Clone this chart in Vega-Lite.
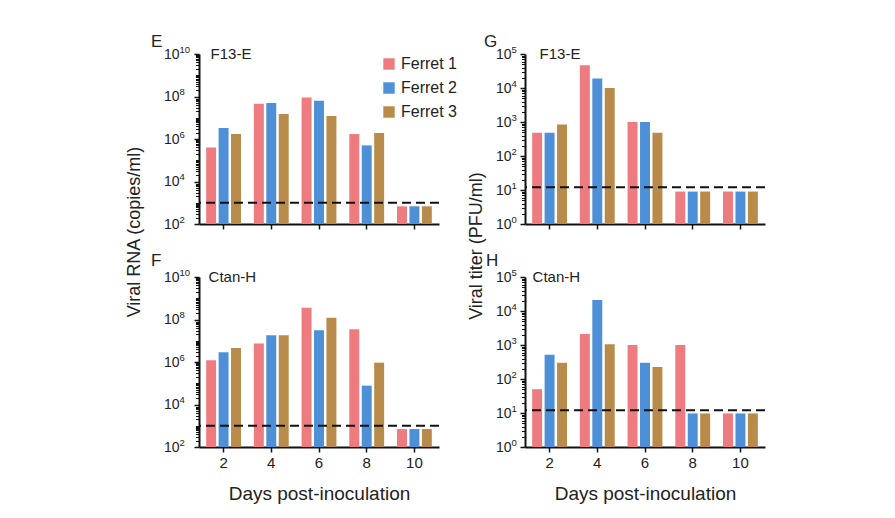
{
  "$schema": "https://vega.github.io/schema/vega-lite/v6.json",
  "padding": {"left": 125, "top": 33, "right": 5, "bottom": 5},
  "background": "white",
  "config": {
    "font": "Liberation Sans",
    "view": {"stroke": null},
    "axis": {"grid": false, "domainColor": "#111", "domainWidth": 2, "tickColor": "#111", "tickWidth": 1.5, "labelColor": "#222", "titleColor": "#222", "labelFont": "Liberation Sans", "titleFont": "Liberation Sans", "titleFontWeight": "normal"},
    "title": {"fontWeight": "normal", "color": "#222", "font": "Liberation Sans"},
    "legend": {"labelFont": "Liberation Sans"}
  },
  "datasets": {
    "rna": [
      {"strain": "F13-E", "day": 2, "ferret": "Ferret 1", "value": 400000},
      {"strain": "F13-E", "day": 2, "ferret": "Ferret 2", "value": 3300000},
      {"strain": "F13-E", "day": 2, "ferret": "Ferret 3", "value": 1700000},
      {"strain": "F13-E", "day": 4, "ferret": "Ferret 1", "value": 45000000},
      {"strain": "F13-E", "day": 4, "ferret": "Ferret 2", "value": 50000000},
      {"strain": "F13-E", "day": 4, "ferret": "Ferret 3", "value": 15000000},
      {"strain": "F13-E", "day": 6, "ferret": "Ferret 1", "value": 90000000},
      {"strain": "F13-E", "day": 6, "ferret": "Ferret 2", "value": 63000000},
      {"strain": "F13-E", "day": 6, "ferret": "Ferret 3", "value": 12000000},
      {"strain": "F13-E", "day": 8, "ferret": "Ferret 1", "value": 1700000},
      {"strain": "F13-E", "day": 8, "ferret": "Ferret 2", "value": 500000},
      {"strain": "F13-E", "day": 8, "ferret": "Ferret 3", "value": 1900000},
      {"strain": "F13-E", "day": 10, "ferret": "Ferret 1", "value": 680},
      {"strain": "F13-E", "day": 10, "ferret": "Ferret 2", "value": 680},
      {"strain": "F13-E", "day": 10, "ferret": "Ferret 3", "value": 680},
      {"strain": "Ctan-H", "day": 2, "ferret": "Ferret 1", "value": 1200000},
      {"strain": "Ctan-H", "day": 2, "ferret": "Ferret 2", "value": 2900000},
      {"strain": "Ctan-H", "day": 2, "ferret": "Ferret 3", "value": 4600000},
      {"strain": "Ctan-H", "day": 4, "ferret": "Ferret 1", "value": 7400000},
      {"strain": "Ctan-H", "day": 4, "ferret": "Ferret 2", "value": 18000000},
      {"strain": "Ctan-H", "day": 4, "ferret": "Ferret 3", "value": 18000000},
      {"strain": "Ctan-H", "day": 6, "ferret": "Ferret 1", "value": 360000000},
      {"strain": "Ctan-H", "day": 6, "ferret": "Ferret 2", "value": 31000000},
      {"strain": "Ctan-H", "day": 6, "ferret": "Ferret 3", "value": 120000000},
      {"strain": "Ctan-H", "day": 8, "ferret": "Ferret 1", "value": 35000000},
      {"strain": "Ctan-H", "day": 8, "ferret": "Ferret 2", "value": 77000},
      {"strain": "Ctan-H", "day": 8, "ferret": "Ferret 3", "value": 930000},
      {"strain": "Ctan-H", "day": 10, "ferret": "Ferret 1", "value": 700},
      {"strain": "Ctan-H", "day": 10, "ferret": "Ferret 2", "value": 700},
      {"strain": "Ctan-H", "day": 10, "ferret": "Ferret 3", "value": 700}
    ],
    "titer": [
      {"strain": "F13-E", "day": 2, "ferret": "Ferret 1", "value": 480},
      {"strain": "F13-E", "day": 2, "ferret": "Ferret 2", "value": 480},
      {"strain": "F13-E", "day": 2, "ferret": "Ferret 3", "value": 850},
      {"strain": "F13-E", "day": 4, "ferret": "Ferret 1", "value": 47000},
      {"strain": "F13-E", "day": 4, "ferret": "Ferret 2", "value": 19000},
      {"strain": "F13-E", "day": 4, "ferret": "Ferret 3", "value": 10000},
      {"strain": "F13-E", "day": 6, "ferret": "Ferret 1", "value": 1000},
      {"strain": "F13-E", "day": 6, "ferret": "Ferret 2", "value": 1000},
      {"strain": "F13-E", "day": 6, "ferret": "Ferret 3", "value": 480},
      {"strain": "F13-E", "day": 8, "ferret": "Ferret 1", "value": 9},
      {"strain": "F13-E", "day": 8, "ferret": "Ferret 2", "value": 9},
      {"strain": "F13-E", "day": 8, "ferret": "Ferret 3", "value": 9},
      {"strain": "F13-E", "day": 10, "ferret": "Ferret 1", "value": 9},
      {"strain": "F13-E", "day": 10, "ferret": "Ferret 2", "value": 9},
      {"strain": "F13-E", "day": 10, "ferret": "Ferret 3", "value": 9},
      {"strain": "Ctan-H", "day": 2, "ferret": "Ferret 1", "value": 50},
      {"strain": "Ctan-H", "day": 2, "ferret": "Ferret 2", "value": 520},
      {"strain": "Ctan-H", "day": 2, "ferret": "Ferret 3", "value": 300},
      {"strain": "Ctan-H", "day": 4, "ferret": "Ferret 1", "value": 2100},
      {"strain": "Ctan-H", "day": 4, "ferret": "Ferret 2", "value": 21000},
      {"strain": "Ctan-H", "day": 4, "ferret": "Ferret 3", "value": 1050},
      {"strain": "Ctan-H", "day": 6, "ferret": "Ferret 1", "value": 1000},
      {"strain": "Ctan-H", "day": 6, "ferret": "Ferret 2", "value": 300},
      {"strain": "Ctan-H", "day": 6, "ferret": "Ferret 3", "value": 225},
      {"strain": "Ctan-H", "day": 8, "ferret": "Ferret 1", "value": 1000},
      {"strain": "Ctan-H", "day": 8, "ferret": "Ferret 2", "value": 9.7},
      {"strain": "Ctan-H", "day": 8, "ferret": "Ferret 3", "value": 9.7},
      {"strain": "Ctan-H", "day": 10, "ferret": "Ferret 1", "value": 9.7},
      {"strain": "Ctan-H", "day": 10, "ferret": "Ferret 2", "value": 9.7},
      {"strain": "Ctan-H", "day": 10, "ferret": "Ferret 3", "value": 9.7}
    ]
  },
  "hconcat": [
    {
      "title": {"text": "Viral RNA (copies/ml)", "orient": "left", "anchor": "middle", "fontSize": 18, "offset": 4, "dx": 36, "dy": -3},
      "spacing": 21,
      "vconcat": [
        {
          "width": 240, "height": 170,
          "title": {"text": "E", "anchor": "start", "frame": "group", "dx": -48, "offset": -7, "fontSize": 17},
          "layer": [
            {
              "data": {"name": "rna"},
              "transform": [{"filter": "datum.strain == 'F13-E'"}],
              "mark": {"type": "bar"},
              "encoding": {
                "x": {"field": "day", "type": "ordinal", "scale": {"paddingInner": 0.27, "paddingOuter": 0.15}, "axis": {"labels": false, "title": null, "tickSize": 5, "labelAngle": 0}},
                "xOffset": {"field": "ferret", "type": "nominal", "scale": {"paddingInner": 0.2}},
                "y": {"field": "value", "type": "quantitative", "scale": {"type": "log", "domain": [100, 10000000000], "nice": false}, "axis": {"title": null, "labelOverlap": false, "values": [100,200,300,400,500,600,700,800,900,1000,2000,3000,4000,5000,6000,7000,8000,9000,10000,20000,30000,40000,50000,60000,70000,80000,90000,100000,200000,300000,400000,500000,600000,700000,800000,900000,1000000,2000000,3000000,4000000,5000000,6000000,7000000,8000000,9000000,10000000,20000000,30000000,40000000,50000000,60000000,70000000,80000000,90000000,100000000,200000000,300000000,400000000,500000000,600000000,700000000,800000000,900000000,1000000000,2000000000,3000000000,4000000000,5000000000,6000000000,7000000000,8000000000,9000000000,10000000000], "labelExpr": "indexof([100, 10000, 1000000, 100000000, 10000000000], datum.value) >= 0 ? '10' : ''", "tickSize": {"condition": {"test": "indexof([100, 10000, 1000000, 100000000, 10000000000], datum.value) >= 0", "value": 5}, "value": 3.5}, "tickWidth": {"condition": {"test": "indexof([100, 10000, 1000000, 100000000, 10000000000], datum.value) >= 0", "value": 1.5}, "value": 1}, "labelFontSize": 14, "labelPadding": 15}},
                "y2": {"datum": 100},
                "color": {"field": "ferret", "type": "nominal", "scale": {"domain": ["Ferret 1", "Ferret 2", "Ferret 3"], "range": ["#ee7b80", "#4d90d8", "#b98b4a"]}, "legend": {"orient": "none", "legendX": 182, "legendY": 2, "title": null, "symbolType": "square", "symbolSize": 130, "symbolStrokeWidth": 0, "labelFontSize": 16, "labelColor": "#222", "rowPadding": 8, "labelOffset": 4}}
              }
            },
            {
              "data": {"values": [{"lod": 1000}]},
              "mark": {"type": "rule", "strokeDash": [9, 5], "strokeWidth": 2, "color": "#111"},
              "encoding": {"y": {"field": "lod", "type": "quantitative", "axis": null}}
            },
            {
              "data": {"values": [{"label": "F13-E", "day": 2, "pos": 10000000000}]},
              "mark": {"type": "text", "align": "left", "baseline": "middle", "dx": -13, "fontSize": 15, "color": "#222"},
              "encoding": {"text": {"field": "label"}, "x": {"field": "day", "type": "ordinal"}, "y": {"field": "pos", "type": "quantitative", "axis": {"orient": "left", "title": null, "domain": false, "ticks": false, "values": [100, 10000, 1000000, 100000000, 10000000000], "labelExpr": "'' + round(log(datum.value) / log(10))", "labelAlign": "left", "labelPadding": 20, "labelFontSize": 9.5, "labelOffset": -5}}}
            }
          ],
          "resolve": {"axis": {"y": "independent"}}
        },
        {
          "width": 240, "height": 170,
          "title": {"text": "F", "anchor": "start", "frame": "group", "dx": -48, "offset": -3, "fontSize": 17},
          "layer": [
            {
              "data": {"name": "rna"},
              "transform": [{"filter": "datum.strain == 'Ctan-H'"}],
              "mark": {"type": "bar"},
              "encoding": {
                "x": {"field": "day", "type": "ordinal", "scale": {"paddingInner": 0.27, "paddingOuter": 0.15}, "axis": {"title": "Days post-inoculation", "tickSize": 5, "labelAngle": 0, "labelFontSize": 15, "labelPadding": 3, "titleFontSize": 19, "titlePadding": 14}},
                "xOffset": {"field": "ferret", "type": "nominal", "scale": {"paddingInner": 0.2}},
                "y": {"field": "value", "type": "quantitative", "scale": {"type": "log", "domain": [100, 10000000000], "nice": false}, "axis": {"title": null, "labelOverlap": false, "values": [100,200,300,400,500,600,700,800,900,1000,2000,3000,4000,5000,6000,7000,8000,9000,10000,20000,30000,40000,50000,60000,70000,80000,90000,100000,200000,300000,400000,500000,600000,700000,800000,900000,1000000,2000000,3000000,4000000,5000000,6000000,7000000,8000000,9000000,10000000,20000000,30000000,40000000,50000000,60000000,70000000,80000000,90000000,100000000,200000000,300000000,400000000,500000000,600000000,700000000,800000000,900000000,1000000000,2000000000,3000000000,4000000000,5000000000,6000000000,7000000000,8000000000,9000000000,10000000000], "labelExpr": "indexof([100, 10000, 1000000, 100000000, 10000000000], datum.value) >= 0 ? '10' : ''", "tickSize": {"condition": {"test": "indexof([100, 10000, 1000000, 100000000, 10000000000], datum.value) >= 0", "value": 5}, "value": 3.5}, "tickWidth": {"condition": {"test": "indexof([100, 10000, 1000000, 100000000, 10000000000], datum.value) >= 0", "value": 1.5}, "value": 1}, "labelFontSize": 14, "labelPadding": 15}},
                "y2": {"datum": 100},
                "color": {"field": "ferret", "type": "nominal", "scale": {"domain": ["Ferret 1", "Ferret 2", "Ferret 3"], "range": ["#ee7b80", "#4d90d8", "#b98b4a"]}, "legend": null}
              }
            },
            {
              "data": {"values": [{"lod": 1000}]},
              "mark": {"type": "rule", "strokeDash": [9, 5], "strokeWidth": 2, "color": "#111"},
              "encoding": {"y": {"field": "lod", "type": "quantitative", "axis": null}}
            },
            {
              "data": {"values": [{"label": "Ctan-H", "day": 2, "pos": 10000000000}]},
              "mark": {"type": "text", "align": "left", "baseline": "middle", "dx": -15, "fontSize": 15, "color": "#222"},
              "encoding": {"text": {"field": "label"}, "x": {"field": "day", "type": "ordinal"}, "y": {"field": "pos", "type": "quantitative", "axis": {"orient": "left", "title": null, "domain": false, "ticks": false, "values": [100, 10000, 1000000, 100000000, 10000000000], "labelExpr": "'' + round(log(datum.value) / log(10))", "labelAlign": "left", "labelPadding": 20, "labelFontSize": 9.5, "labelOffset": -5}}}
            }
          ],
          "resolve": {"axis": {"y": "independent"}}
        }
      ],
      "resolve": {"legend": {"color": "independent"}, "scale": {"y": "independent"}}
    },
    {
      "title": {"text": "Viral titer (PFU/ml)", "orient": "left", "anchor": "middle", "fontSize": 18, "offset": -7, "dx": 22, "dy": -5},
      "spacing": 21,
      "vconcat": [
        {
          "width": 240, "height": 170,
          "title": {"text": "G", "anchor": "start", "frame": "group", "dx": -41, "offset": -7, "fontSize": 17},
          "layer": [
            {
              "data": {"name": "titer"},
              "transform": [{"filter": "datum.strain == 'F13-E'"}],
              "mark": {"type": "bar"},
              "encoding": {
                "x": {"field": "day", "type": "ordinal", "scale": {"paddingInner": 0.27, "paddingOuter": 0.15}, "axis": {"labels": false, "title": null, "tickSize": 5, "labelAngle": 0}},
                "xOffset": {"field": "ferret", "type": "nominal", "scale": {"paddingInner": 0.2}},
                "y": {"field": "value", "type": "quantitative", "scale": {"type": "log", "domain": [1, 100000], "nice": false}, "axis": {"title": null, "labelOverlap": false, "values": [1,2,3,4,5,6,7,8,9,10,20,30,40,50,60,70,80,90,100,200,300,400,500,600,700,800,900,1000,2000,3000,4000,5000,6000,7000,8000,9000,10000,20000,30000,40000,50000,60000,70000,80000,90000,100000], "labelExpr": "indexof([1, 10, 100, 1000, 10000, 100000], datum.value) >= 0 ? '10' : ''", "tickSize": {"condition": {"test": "indexof([1, 10, 100, 1000, 10000, 100000], datum.value) >= 0", "value": 5}, "value": 3.5}, "tickWidth": {"condition": {"test": "indexof([1, 10, 100, 1000, 10000, 100000], datum.value) >= 0", "value": 1.5}, "value": 1}, "labelFontSize": 14, "labelPadding": 9}},
                "y2": {"datum": 1},
                "color": {"field": "ferret", "type": "nominal", "scale": {"domain": ["Ferret 1", "Ferret 2", "Ferret 3"], "range": ["#ee7b80", "#4d90d8", "#b98b4a"]}, "legend": null}
              }
            },
            {
              "data": {"values": [{"lod": 12}]},
              "mark": {"type": "rule", "strokeDash": [9, 5], "strokeWidth": 2, "color": "#111"},
              "encoding": {"y": {"field": "lod", "type": "quantitative", "axis": null}}
            },
            {
              "data": {"values": [{"label": "F13-E", "day": 2, "pos": 100000}]},
              "mark": {"type": "text", "align": "left", "baseline": "middle", "dx": -10, "fontSize": 15, "color": "#222"},
              "encoding": {"text": {"field": "label"}, "x": {"field": "day", "type": "ordinal"}, "y": {"field": "pos", "type": "quantitative", "axis": {"orient": "left", "title": null, "domain": false, "ticks": false, "values": [1, 10, 100, 1000, 10000, 100000], "labelExpr": "'' + round(log(datum.value) / log(10))", "labelAlign": "left", "labelPadding": 14, "labelFontSize": 9.5, "labelOffset": -5}}}
            }
          ],
          "resolve": {"axis": {"y": "independent"}}
        },
        {
          "width": 240, "height": 170,
          "title": {"text": "H", "anchor": "start", "frame": "group", "dx": -39, "offset": -3, "fontSize": 17},
          "layer": [
            {
              "data": {"name": "titer"},
              "transform": [{"filter": "datum.strain == 'Ctan-H'"}],
              "mark": {"type": "bar"},
              "encoding": {
                "x": {"field": "day", "type": "ordinal", "scale": {"paddingInner": 0.27, "paddingOuter": 0.15}, "axis": {"title": "Days post-inoculation", "tickSize": 5, "labelAngle": 0, "labelFontSize": 15, "labelPadding": 3, "titleFontSize": 19, "titlePadding": 14}},
                "xOffset": {"field": "ferret", "type": "nominal", "scale": {"paddingInner": 0.2}},
                "y": {"field": "value", "type": "quantitative", "scale": {"type": "log", "domain": [1, 100000], "nice": false}, "axis": {"title": null, "labelOverlap": false, "values": [1,2,3,4,5,6,7,8,9,10,20,30,40,50,60,70,80,90,100,200,300,400,500,600,700,800,900,1000,2000,3000,4000,5000,6000,7000,8000,9000,10000,20000,30000,40000,50000,60000,70000,80000,90000,100000], "labelExpr": "indexof([1, 10, 100, 1000, 10000, 100000], datum.value) >= 0 ? '10' : ''", "tickSize": {"condition": {"test": "indexof([1, 10, 100, 1000, 10000, 100000], datum.value) >= 0", "value": 5}, "value": 3.5}, "tickWidth": {"condition": {"test": "indexof([1, 10, 100, 1000, 10000, 100000], datum.value) >= 0", "value": 1.5}, "value": 1}, "labelFontSize": 14, "labelPadding": 9}},
                "y2": {"datum": 1},
                "color": {"field": "ferret", "type": "nominal", "scale": {"domain": ["Ferret 1", "Ferret 2", "Ferret 3"], "range": ["#ee7b80", "#4d90d8", "#b98b4a"]}, "legend": null}
              }
            },
            {
              "data": {"values": [{"lod": 12}]},
              "mark": {"type": "rule", "strokeDash": [9, 5], "strokeWidth": 2, "color": "#111"},
              "encoding": {"y": {"field": "lod", "type": "quantitative", "axis": null}}
            },
            {
              "data": {"values": [{"label": "Ctan-H", "day": 2, "pos": 100000}]},
              "mark": {"type": "text", "align": "left", "baseline": "middle", "dx": -17, "fontSize": 15, "color": "#222"},
              "encoding": {"text": {"field": "label"}, "x": {"field": "day", "type": "ordinal"}, "y": {"field": "pos", "type": "quantitative", "axis": {"orient": "left", "title": null, "domain": false, "ticks": false, "values": [1, 10, 100, 1000, 10000, 100000], "labelExpr": "'' + round(log(datum.value) / log(10))", "labelAlign": "left", "labelPadding": 14, "labelFontSize": 9.5, "labelOffset": -5}}}
            }
          ],
          "resolve": {"axis": {"y": "independent"}}
        }
      ],
      "resolve": {"legend": {"color": "independent"}, "scale": {"y": "independent"}}
    }
  ],
  "spacing": 9,
  "resolve": {"legend": {"color": "independent"}, "scale": {"y": "independent"}}
}
